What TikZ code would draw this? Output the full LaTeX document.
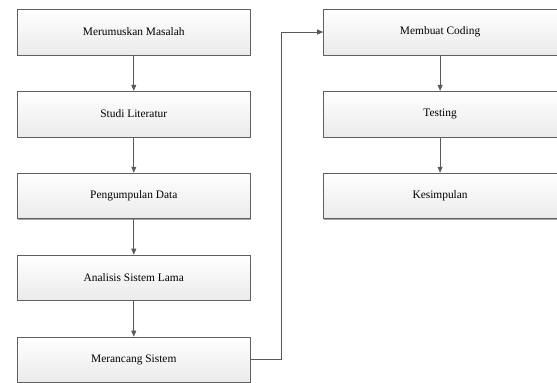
\documentclass[tikz,border=0pt]{standalone}
\usepackage{fontspec}
\setmainfont{Liberation Serif}
\usepackage{xcolor}
\usepackage{tikz}
\usetikzlibrary{arrows.meta, positioning, calc, shadows}

\begin{document}
\begin{tikzpicture}[
      font=\fontsize{11.5}{13}\selectfont,
      node distance=36pt,
      box/.style={draw=gray!75!black, line width=0.5pt, align=center, minimum width=235pt, minimum height=46pt,
        top color=white, bottom color=gray!16,
        drop shadow={shadow xshift=0.9pt, shadow yshift=-0.9pt, fill=gray!70, opacity=1}},
      arrow/.style={-{Triangle[length=6pt, width=5pt]}, draw=gray!70!black, line width=0.7pt}
    ]
      % kolom kiri
      \node[box] (rumus) {Merumuskan Masalah};
      \node[box, below=of rumus] (studi) {Studi Literatur};
      \node[box, below=of studi] (data) {Pengumpulan Data};
      \node[box, below=of data] (analisis) {Analisis Sistem Lama};
      \node[box, below=of analisis] (rancang) {Merancang Sistem};
      % kolom kanan
      \node[box, right=73pt of rumus] (coding) {Membuat Coding};
      \node[box, below=of coding] (testing) {Testing};
      \node[box, below=of testing] (simpulan) {Kesimpulan};

      \draw[arrow] (rumus) -- (studi);
      \draw[arrow] (studi) -- (data);
      \draw[arrow] (data) -- (analisis);
      \draw[arrow] (analisis) -- (rancang);
      \draw[arrow] (rancang.east) -- ++(31pt,0) |- (coding.west);
      \draw[arrow] (coding) -- (testing);
      \draw[arrow] (testing) -- (simpulan);

      \useasboundingbox ($(rumus.north west)+(-17pt,9pt)$) rectangle ++(557pt,-380pt);
    \end{tikzpicture}
\end{document}
